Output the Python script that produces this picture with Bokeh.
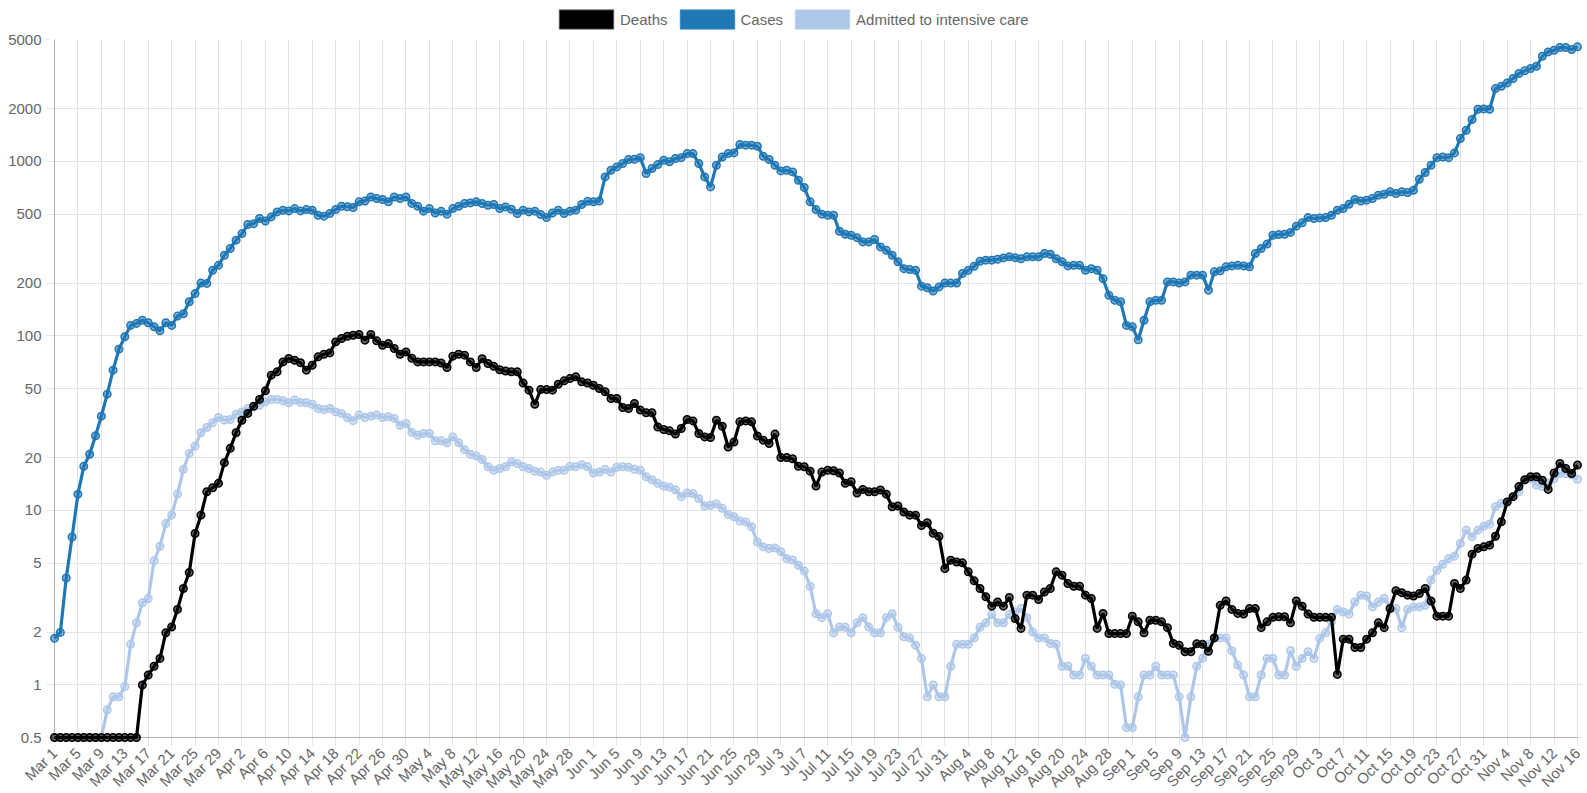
import math
from bokeh.plotting import figure
from bokeh.layouts import column
from bokeh.models import Range1d, FixedTicker, Legend, LegendItem
from bokeh.embed import file_html
from bokeh.resources import INLINE

# ---------------- data ----------------
tick_labels = [
    "Mar 1", "Mar 5", "Mar 9", "Mar 13", "Mar 17", "Mar 21", "Mar 25", "Mar 29",
    "Apr 2", "Apr 6", "Apr 10", "Apr 14", "Apr 18", "Apr 22", "Apr 26", "Apr 30",
    "May 4", "May 8", "May 12", "May 16", "May 20", "May 24", "May 28",
    "Jun 1", "Jun 5", "Jun 9", "Jun 13", "Jun 17", "Jun 21", "Jun 25", "Jun 29",
    "Jul 3", "Jul 7", "Jul 11", "Jul 15", "Jul 19", "Jul 23", "Jul 27", "Jul 31",
    "Aug 4", "Aug 8", "Aug 12", "Aug 16", "Aug 20", "Aug 24", "Aug 28",
    "Sep 1", "Sep 5", "Sep 9", "Sep 13", "Sep 17", "Sep 21", "Sep 25", "Sep 29",
    "Oct 3", "Oct 7", "Oct 11", "Oct 15", "Oct 19", "Oct 23", "Oct 27", "Oct 31",
    "Nov 4", "Nov 8", "Nov 12", "Nov 16",
]

y_ticks = [0.5, 1, 2, 5, 10, 20, 50, 100, 200, 500, 1000, 2000, 5000]
y_tick_labels = ["0.5", "1", "2", "5", "10", "20", "50", "100", "200", "500", "1000", "2000", "5000"]

series_names = ["Deaths", "Cases", "Admitted to intensive care"]

cases = [
    1.85, 2.0, 4.1, 7.05, 12.4, 17.9, 21, 26.8, 34.7, 46.4,
    63.7, 84, 99, 115, 118, 123, 119, 113, 107, 119,
    115, 130, 134, 157, 175, 201, 200, 238, 254, 290,
    317, 354, 386, 435, 440, 471, 456, 481, 514, 525,
    521, 537, 521, 530, 525, 492, 486, 503, 530, 554,
    550, 545, 587, 594, 626, 613, 605, 587, 626, 613,
    626, 575, 554, 519, 537, 507, 519, 499, 537, 554,
    574, 579, 587, 574, 561, 567, 537, 549, 532, 503,
    526, 514, 519, 497, 477, 507, 526, 503, 519, 526,
    567, 591, 587, 593, 816, 891, 931, 973, 1026, 1030,
    1052, 853, 911, 960, 1016, 995, 1040, 1052, 1110, 1110,
    973, 816, 715, 952, 1061, 1110, 1120, 1250, 1240, 1240,
    1222, 1071, 1026, 952, 883, 891, 871, 781, 709, 587,
    530, 499, 492, 492, 398, 383, 378, 366, 346, 346,
    357, 324, 310, 290, 266, 243, 240, 238, 193, 189,
    181, 191, 201, 201, 201, 228, 238, 251, 268, 272,
    272, 275, 280, 284, 281, 277, 284, 284, 284, 297,
    294, 277, 266, 252, 254, 254, 238, 243, 238, 213,
    171, 160, 157, 115, 113, 95, 123, 157, 160, 160,
    204, 204, 201, 204, 223, 223, 223, 183, 233, 236,
    249, 252, 254, 252, 249, 297, 317, 336, 378, 381,
    383, 392, 426, 445, 477, 471, 475, 477, 492, 526,
    537, 569, 605, 594, 600, 613, 641, 649, 670, 655,
    670, 664, 684, 791, 864, 951, 1052, 1061, 1052, 1120,
    1353, 1510, 1740, 1992, 2000, 1992, 2617, 2700, 2820, 2987,
    3192, 3305, 3408, 3515, 4010, 4246, 4340, 4497, 4497, 4380,
    4537,
]

deaths = [
    0.5, 0.5, 0.5, 0.5, 0.5, 0.5, 0.5, 0.5, 0.5, 0.5,
    0.5, 0.5, 0.5, 0.5, 0.5, 1.0, 1.14, 1.28, 1.42, 1.99,
    2.15, 2.71, 3.57, 4.41, 7.38, 9.4, 12.8, 13.5, 14.3, 18.8,
    22.7, 27.9, 32.9, 36, 39.6, 43.3, 48.5, 59.6, 62.3, 71,
    74.3, 72.6, 70.2, 63.7, 68, 75.9, 78.6, 80, 92.5, 96.7,
    99.6, 101, 102, 94.6, 102, 93.8, 88.5, 90.4, 84.7, 78.6,
    81, 74.5, 71, 71, 71, 71, 70, 66, 76.6, 78.6,
    77.6, 71, 66, 74, 69.5, 67, 64, 63, 62.3, 62.3,
    53.8, 48.9, 40.6, 49.3, 49.3, 48.9, 52.9, 55.3, 57, 58.3,
    54.6, 53.8, 52.2, 50, 47.9, 43.8, 43.8, 38.9, 38.4, 41,
    37.6, 36.3, 36.3, 30.1, 29.1, 28.6, 27.4, 29.5, 33.2, 32.6,
    27.6, 26.4, 26.2, 32.9, 30.4, 23.1, 24.7, 32.2, 32.6, 32.2,
    26.7, 25.3, 24.2, 27.4, 20.1, 20.1, 19.8, 17.9, 17.8, 16.8,
    13.8, 16.6, 17.0, 16.9, 16.4, 14.3, 14.6, 12.6, 13.2, 12.8,
    12.8, 13.1, 12.4, 10.5, 10.6, 9.8, 9.4, 9.4, 8.2, 8.5,
    7.4, 7.1, 4.64, 5.19, 5.07, 5.01, 4.45, 3.95, 3.57, 3.2,
    2.83, 2.99, 2.83, 3.17, 2.40, 2.11, 3.27, 3.27, 3.09, 3.41,
    3.57, 4.45, 4.26, 3.81, 3.68, 3.68, 3.27, 3.13, 2.11, 2.57,
    1.97, 1.97, 1.97, 1.97, 2.48, 2.30, 1.99, 2.35, 2.35, 2.30,
    2.13, 1.73, 1.69, 1.55, 1.55, 1.72, 1.71, 1.56, 1.86, 2.86,
    3.03, 2.71, 2.57, 2.55, 2.74, 2.74, 2.13, 2.30, 2.44, 2.46,
    2.46, 2.27, 3.03, 2.83, 2.55, 2.44, 2.44, 2.44, 2.44, 1.15,
    1.83, 1.83, 1.64, 1.64, 1.83, 1.99, 2.27, 2.13, 2.74, 3.47,
    3.38, 3.27, 3.23, 3.34, 3.57, 3.03, 2.48, 2.48, 2.48, 3.82,
    3.57, 3.99, 5.62, 6.06, 6.19, 6.33, 7.12, 8.61, 11.2, 12.0,
    13.7, 15.0, 15.6, 15.6, 14.9, 13.2, 16.4, 18.6, 17.4, 16.3,
    18.2,
]

icu = [
    0.5, 0.5, 0.5, 0.5, 0.5, 0.5, 0.5, 0.5, 0.5, 0.72,
    0.855, 0.855, 0.98, 1.71, 2.27, 2.96, 3.13, 5.15, 6.24, 8.41,
    9.4, 12.4, 17.2, 21.2, 23.4, 27.9, 29.9, 31.8, 34.1, 33.0,
    33.2, 35.6, 36.7, 38.4, 39.2, 40.1, 42, 43.3, 43.3, 42.5,
    41.4, 42.9, 41.6, 41.4, 40.6, 38.4, 37.9, 38.4, 36.7, 36,
    34.1, 32.7, 35.2, 34.1, 34.7, 35.2, 34.1, 34.4, 33.7, 30.8,
    31.5, 28, 27, 27.6, 27.6, 25.1, 25.1, 24.4, 26.4, 24.4,
    22.3, 21.0, 20.5, 19.6, 17.8, 17.0, 17.4, 17.8, 19.0, 18.6,
    17.8, 17.4, 16.8, 16.6, 15.9, 16.6, 17.0, 17.0, 17.9, 17.8,
    18.3, 17.8, 16.4, 16.6, 17.2, 16.6, 17.7, 17.8, 17.7, 17.2,
    17.0, 15.6, 15.0, 14.3, 13.8, 13.6, 13.1, 12.0, 12.6, 12.5,
    11.7, 10.6, 10.7, 10.9, 10.3, 9.5, 9.2, 8.7, 8.6, 8.06,
    6.6, 6.18, 6.05, 6.1, 5.8, 5.3, 5.2, 4.85, 4.5, 3.68,
    2.56, 2.43, 2.56, 1.99, 2.15, 2.14, 1.99, 2.27, 2.43, 2.15,
    1.99, 1.99, 2.43, 2.56, 2.14, 1.89, 1.86, 1.69, 1.42, 0.855,
    1.0, 0.855, 0.855, 1.28, 1.71, 1.71, 1.71, 1.86, 2.14, 2.27,
    2.54, 2.27, 2.27, 2.54, 2.62, 2.74, 2.43, 2.01, 1.86, 1.86,
    1.73, 1.71, 1.28, 1.28, 1.14, 1.14, 1.42, 1.28, 1.14, 1.14,
    1.14, 1.01, 1.0, 0.57, 0.57, 0.855, 1.14, 1.14, 1.28, 1.14,
    1.14, 1.14, 0.855, 0.5, 0.855, 1.28, 1.42, 1.71, 1.86, 1.86,
    1.86, 1.57, 1.30, 1.14, 0.855, 0.855, 1.14, 1.42, 1.42, 1.14,
    1.14, 1.57, 1.28, 1.42, 1.55, 1.42, 1.85, 1.99, 2.30, 2.71,
    2.62, 2.55, 2.99, 3.27, 3.23, 2.80, 2.99, 3.13, 2.80, 2.74,
    2.13, 2.71, 2.80, 2.80, 2.86, 3.99, 4.55, 4.92, 5.3, 5.47,
    6.47, 7.71, 7.06, 7.71, 8.13, 8.35, 10.5, 11.0, 11.2, 12.0,
    12.8, 14.9, 15.2, 14.0, 13.7, 14.3, 15.2, 16.3, 16.3, 16.0,
    15.1,
]

days = list(range(len(cases)))
tick_days = days[::4]

# ---------------- styling ----------------
FONT = "Liberation Sans"
TEXT = "#666666"
GRID = "#e3e3e3"
AXIS = "#b0b0b0"
C_DEATHS = "#000000"
C_CASES = "#1f77b4"
C_ICU = "#aec7e8"

PAGE_W = 1587
LEGEND_H = 30
FRAME_W, FRAME_H = 1533, 703
PX_PER_DAY = 5.858
PX_PER_DEC = 174.5
PAD = 5  # pixels of room so edge markers are not clipped

x_pad = PAD / PX_PER_DAY
y_lo = y_ticks[0] * 10 ** (-PAD / PX_PER_DEC)

# ---------------- main chart ----------------
p = figure(
    frame_width=FRAME_W, frame_height=FRAME_H,
    y_axis_type="log",
    x_range=Range1d(days[0] - x_pad, days[-1] + x_pad),
    y_range=Range1d(y_lo, y_ticks[-1]),
    output_backend="svg", toolbar_location=None,
    min_border_left=49, min_border_right=5, min_border_top=9, min_border_bottom=0,
    background_fill_color="white", border_fill_color="white",
)
p.outline_line_color = None

for ax in (p.xaxis[0], p.yaxis[0]):
    ax.axis_line_color = None
    ax.major_tick_line_color = GRID
    ax.major_tick_out = 3
    ax.major_tick_in = 0
    ax.minor_tick_line_color = None
    ax.major_label_text_font = FONT
    ax.major_label_text_font_size = "15px"
    ax.major_label_text_color = TEXT
    ax.major_label_standoff = 5

p.xaxis.ticker = FixedTicker(ticks=tick_days)
p.xaxis.major_label_overrides = dict(zip(tick_days, tick_labels))
p.xaxis.major_label_orientation = math.pi / 4

p.yaxis.ticker = FixedTicker(ticks=y_ticks)
p.yaxis.major_label_overrides = dict(zip(y_ticks, y_tick_labels))

p.xgrid.grid_line_color = GRID
p.ygrid.grid_line_color = GRID
p.ygrid.minor_grid_line_color = None

# axis lines (at Mar 1 and at 0.5)
p.segment(x0=[days[0]], y0=[y_ticks[0]], x1=[days[0]], y1=[y_ticks[-1]], line_color=AXIS, line_width=1)
p.segment(x0=[days[0]], y0=[y_ticks[0]], x1=[days[-1]], y1=[y_ticks[0]], line_color=AXIS, line_width=1)

# series (first dataset on top, as in the original)
for ys, col, fa in ((icu, C_ICU, 0.45), (cases, C_CASES, 0.55), (deaths, C_DEATHS, 0.6)):
    p.line(days, ys, line_color=col, line_width=3.2)
    p.scatter(days, ys, size=7.5, fill_color=col, fill_alpha=fa, line_color=col, line_width=1.5)

# ---------------- legend strip ----------------
lf = figure(
    width=PAGE_W, height=LEGEND_H,
    x_range=Range1d(0, 1), y_range=Range1d(0, 1),
    x_axis_location=None, y_axis_location=None,
    output_backend="svg", toolbar_location=None, min_border=0,
    background_fill_color="white", border_fill_color="white",
)
lf.grid.visible = False
lf.outline_line_color = None

nan = float("nan")
swatches = []
for fill, edge in ((C_DEATHS, "#555555"), (C_CASES, "#3b88c0"), (C_ICU, "#bcd2ee")):
    swatches.append(lf.quad(left=[nan], right=[nan], top=[nan], bottom=[nan],
                            fill_color=fill, line_color=edge))

legend = Legend(
    items=[LegendItem(label=n, renderers=[r]) for n, r in zip(series_names, swatches)],
    orientation="horizontal",
    location=(503, -1),
    glyph_width=68, glyph_height=24,
    label_standoff=0, spacing=5, padding=0, margin=0,
    border_line_color=None, background_fill_alpha=0,
    label_text_font=FONT, label_text_font_size="15px", label_text_color=TEXT,
    label_height=20,
)
lf.add_layout(legend, "center")

layout = column(lf, p, spacing=0)
open("out.html", "w").write(file_html(layout, INLINE))
